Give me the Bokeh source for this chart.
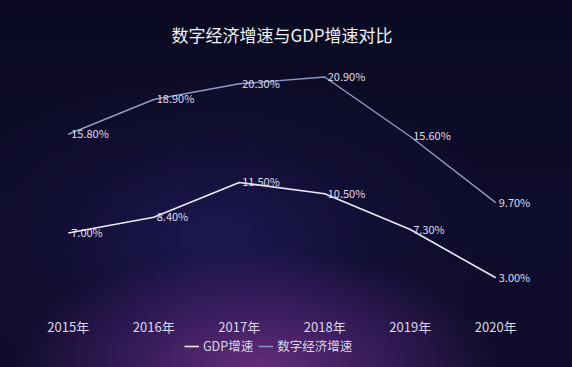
from bokeh.plotting import figure
from bokeh.models import ColumnDataSource, Range1d, Legend, LegendItem, Title
from bokeh.core.properties import value
from bokeh.embed import file_html
from bokeh.resources import INLINE

years = ["2015年", "2016年", "2017年", "2018年", "2019年", "2020年"]
gdp = [7.0, 8.4, 11.5, 10.5, 7.3, 3.0]
digital = [15.8, 18.9, 20.3, 20.9, 15.6, 9.7]
gdp_labels = ["7.00%", "8.40%", "11.50%", "10.50%", "7.30%", "3.00%"]
digital_labels = ["15.80%", "18.90%", "20.30%", "20.90%", "15.60%", "9.70%"]
title_text = "数字经济增速与GDP增速对比"
series_names = ["GDP增速", "数字经济增速"]

FONT = "Noto Sans CJK SC"
GDP_COLOR = "#ebe8f7"
DIG_COLOR = "#8d9bc6"
LABEL_COLOR = "#dedde9"

src = ColumnDataSource(dict(x=years, gdp=gdp, digital=digital,
                            gl=gdp_labels, dl=digital_labels,
                            base=[0] * len(years)))

p = figure(width=572, height=367, x_range=years, y_range=Range1d(-5, 23),
           output_backend="svg", toolbar_location=None,
           min_border_left=25, min_border_right=34,
           min_border_top=53, min_border_bottom=0)
p.background_fill_alpha = 0
p.border_fill_alpha = 0
p.outline_line_color = None
p.styles = {
    "background": "radial-gradient(ellipse 42% 32% at 45% 100%, rgba(115,50,135,0.85) 0%, rgba(85,40,125,0.55) 50%, rgba(40,25,90,0) 100%),"
                  "radial-gradient(ellipse 50% 50% at 38% 65%, rgba(42,33,112,0.55) 0%, rgba(28,22,80,0.25) 55%, rgba(0,0,0,0) 100%),"
                  "linear-gradient(180deg, #0b0a22 0%, #0e0c2b 60%, #110c2c 100%)",
}

p.xgrid.visible = False
p.ygrid.visible = False
p.yaxis.visible = False
p.xaxis.visible = False

p.title = Title(text=title_text, align="center", text_font=FONT,
                text_font_size="17px", text_font_style="normal",
                text_color="#f2f2f8", standoff=13)

# category labels under the zero line
p.text("x", "base", text="x", source=src, y_offset=15,
       text_baseline="middle", text_align="center",
       text_font=value(FONT), text_font_size="13px", text_color="#d9d8e6")

r_gdp = p.line("x", "gdp", source=src, line_color=GDP_COLOR, line_width=1.6)
r_dig = p.line("x", "digital", source=src, line_color=DIG_COLOR, line_width=1.4)

for col in ["gl", "dl"]:
    p.text("x", "gdp" if col == "gl" else "digital", text=col, source=src,
           x_offset=3, y_offset=-1, text_baseline="middle", text_align="left",
           text_font=value(FONT), text_font_size="11px", text_color=LABEL_COLOR)

legend = Legend(items=[LegendItem(label=series_names[0], renderers=[r_gdp]),
                       LegendItem(label=series_names[1], renderers=[r_dig])],
                orientation="horizontal", location=(159, 12),
                background_fill_alpha=0, border_line_alpha=0,
                padding=0, margin=0, spacing=5, glyph_width=15, glyph_height=14,
                label_standoff=4, label_height=14,
                label_text_font=FONT, label_text_font_size="12.5px",
                label_text_color="#d6d5e3")
p.add_layout(legend, "center")

open("out.html", "w").write(file_html(p, INLINE))
